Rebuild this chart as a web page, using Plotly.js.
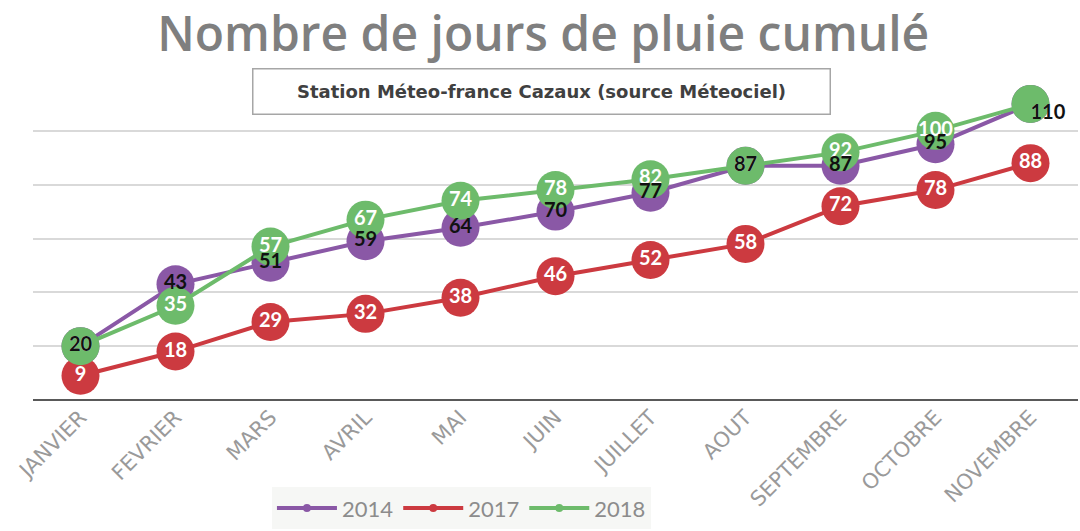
<!DOCTYPE html>
<html>
<head>
<meta charset="utf-8">
<script src="https://cdn.plot.ly/plotly-3.0.1.min.js"></script>
<style>html,body{margin:0;padding:0;background:#fff;}#chart{width:1080px;height:531px;}</style>
</head>
<body>
<div id="chart"></div>
<script>
const months = ["JANVIER","FEVRIER","MARS","AVRIL","MAI","JUIN","JUILLET","AOUT","SEPTEMBRE","OCTOBRE","NOVEMBRE"];
const years = ["2014","2017","2018"];
const v2014 = [20,43,51,59,64,70,77,87,87,95,110];
const v2017 = [9,18,29,32,38,46,52,58,72,78,88];
const v2018 = [20,35,57,67,74,78,82,87,92,100,110];
const titleText = "Nombre de jours de pluie cumulé";
const subtitleText = "Station Méteo-france Cazaux (source Méteociel)";

const colors = {"2014":"#8a58a6","2017":"#cc3a40","2018":"#6dbb6b"};
const labelColors = {"2014":"#111111","2017":"#ffffff","2018":"#ffffff"};
const series = {"2014":v2014,"2017":v2017,"2018":v2018};
const FONT = "Lato, 'Open Sans', sans-serif";

const traces = [];
years.forEach(y => {
  traces.push({
    type:"scatter", mode:"lines+markers", x:months, y:series[y], name:y,
    showlegend:false, cliponaxis:false, hoverinfo:"skip",
    line:{color:colors[y], width:4},
    marker:{color:colors[y], size:38}
  });
});
// labels drawn last, 2018 first so 2014's black labels sit on top
["2017","2018","2014"].forEach(y => {
  const last = months.length-1;
  const pos = series[y].map((v,i)=> (i===last && y!=="2017") ? "bottom right" : "middle center");
  traces.push({
    type:"scatter", mode:"text", x:months, y:series[y], showlegend:false, cliponaxis:false,
    hoverinfo:"skip", text:series[y].map(String), textposition:pos,
    textfont:{family:FONT, size:20, color:labelColors[y], weight:700}
  });
});
years.forEach(y => {
  traces.push({
    type:"scatter", mode:"lines+markers", x:[null], y:[null], name:y, showlegend:true,
    line:{color:colors[y], width:4}, marker:{color:colors[y], size:8}
  });
});

const layout = {
  width:1080, height:531,
  margin:{l:33, r:2, t:77, b:128},
  paper_bgcolor:"#ffffff", plot_bgcolor:"#ffffff",
  showlegend:true,
  title:{text:titleText, x:0.503, xanchor:"center", y:0.935, yanchor:"middle",
    font:{family:"'Open Sans', sans-serif", size:48, color:"#7f7f7f", weight:600}},
  xaxis:{type:"category", range:[-0.5,10.5], showgrid:false, zeroline:false,
    showline:false, ticks:"", tickangle:-45,
    tickfont:{family:"'DejaVu Sans', sans-serif", size:21, color:"#9a9a9a"}, automargin:false},
  yaxis:{range:[0,120], dtick:20, showticklabels:false, showgrid:true,
    gridcolor:"#d9d9d9", gridwidth:2, zeroline:true, zerolinecolor:"#595959",
    zerolinewidth:2, showline:false, fixedrange:true},
  legend:{orientation:"h", x:0.41, xanchor:"center", y:-0.335, yanchor:"middle",
    bgcolor:"#f6f7f5", font:{family:FONT, size:22, color:"#8c8c8c"},
    itemwidth:60, tracegroupgap:0},
  annotations:[{
    text:"<b>"+subtitleText+"</b>", xref:"paper", yref:"paper",
    x:(541-33)/1045, y:1+(77-92)/326, xanchor:"center", yanchor:"middle",
    showarrow:false, width:570, height:38, align:"center",
    bordercolor:"#a6a6a6", borderwidth:1.5, bgcolor:"#ffffff", borderpad:3,
    font:{family:"'DejaVu Sans', sans-serif", size:18, color:"#404040"}
  }]
};
Plotly.newPlot("chart", traces, layout, {displayModeBar:false, staticPlot:true});
</script>
</body>
</html>
